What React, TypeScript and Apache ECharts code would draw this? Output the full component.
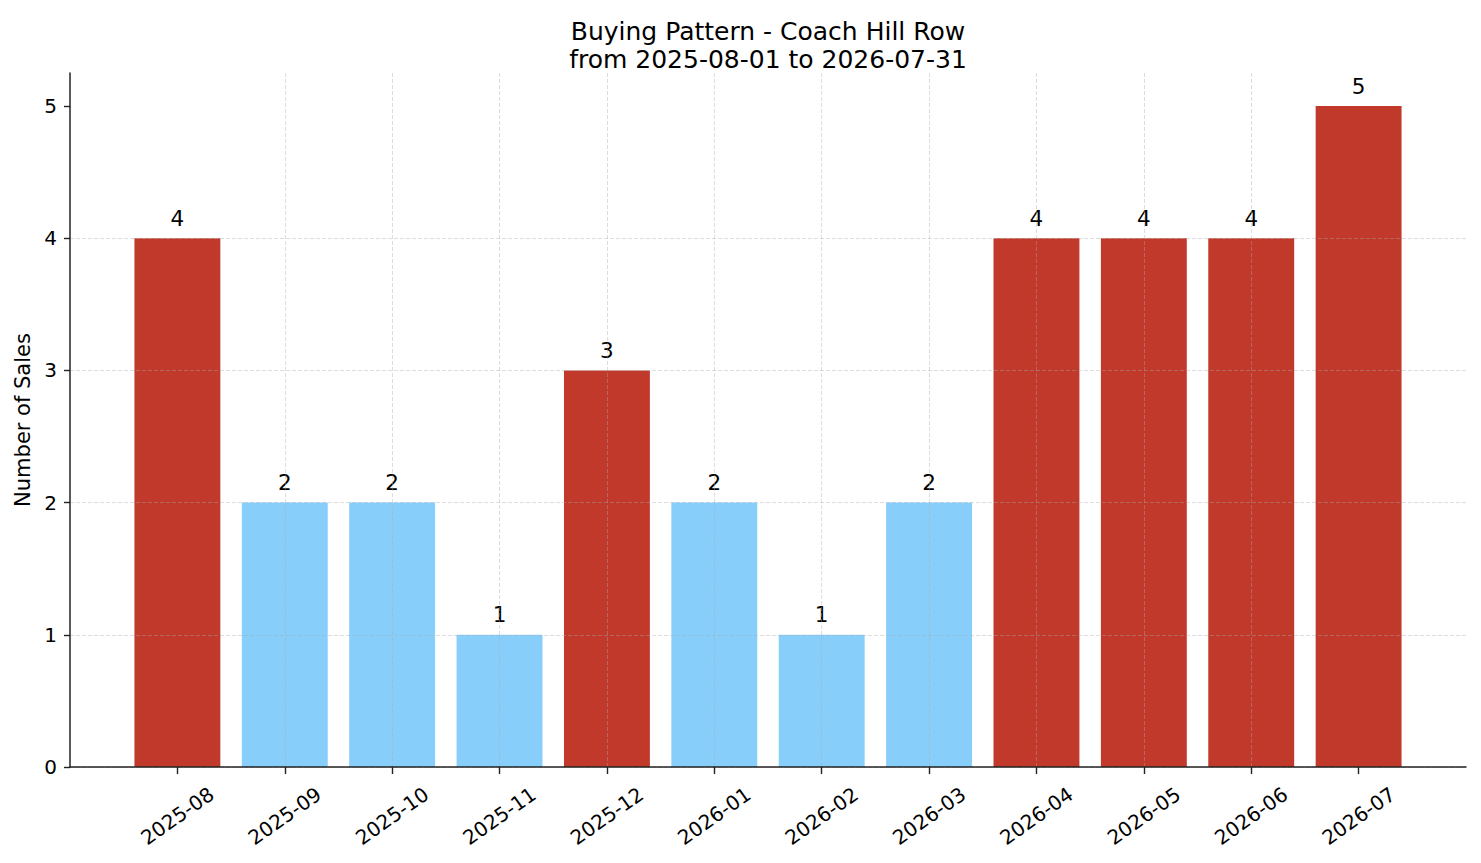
import React, { useEffect, useRef } from "react";
import * as echarts from "echarts";

// monthly sales counts
const months = [
  "2025-08", "2025-09", "2025-10", "2025-11", "2025-12", "2026-01",
  "2026-02", "2026-03", "2026-04", "2026-05", "2026-06", "2026-07",
];
const sales = [4, 2, 2, 1, 3, 2, 1, 2, 4, 4, 4, 5];
const yTicks = [0, 1, 2, 3, 4, 5];

const HIGH = "#c0392b";
const LOW = "#87cefa";
const HIGH_FROM = 3; // months with 3+ sales are shown in red

const FONT = "DejaVu Sans";
const AXIS = "#222222";
const GRID = "rgba(170,170,170,0.5)";
const TICK_SIZE = 20;

const App = () => {
  const chartRef = useRef<HTMLDivElement>(null);

  useEffect(() => {
    const chartDom = chartRef.current;
    if (!chartDom) return;
    const myChart = echarts.init(chartDom, null, { renderer: "svg" });

    const idx = months.map((_, i) => i);

    const option = {
      animation: false,
      backgroundColor: "#ffffff",
      textStyle: { fontFamily: FONT },
      title: {
        text: "Buying Pattern - Coach Hill Row\nfrom 2025-08-01 to 2026-07-31",
        left: 763,
        top: 12,
        textAlign: "center",
        textStyle: {
          fontFamily: FONT,
          fontSize: 25,
          fontWeight: "normal",
          color: "#000",
          lineHeight: 28,
        },
      },
      grid: { left: 70, right: 15, top: 73, bottom: 96, containLabel: false },
      xAxis: {
        type: "value",
        min: -1,
        max: 12,
        interval: 1,
        z: 3,
        axisLine: { show: true, onZero: false, lineStyle: { color: AXIS, width: 1.5 } },
        axisTick: {
          show: true,
          length: 7,
          customValues: idx,
          lineStyle: { color: AXIS, width: 1.4 },
        },
        axisLabel: {
          customValues: idx,
          rotate: 35,
          align: "center",
          verticalAlign: "middle",
          margin: 49,
          fontFamily: FONT,
          fontSize: TICK_SIZE,
          color: "#000",
          formatter: (v: number) => months[v] ?? "",
        },
        splitLine: {
          show: true,
          showMinLine: false,
          showMaxLine: false,
          lineStyle: { color: GRID, type: [4, 2], width: 0.8 },
        },
      },
      yAxis: {
        type: "value",
        min: 0,
        max: 5.25,
        interval: 1,
        z: 3,
        name: "Number of Sales",
        nameLocation: "middle",
        nameGap: 36,
        nameTextStyle: { fontFamily: FONT, fontSize: 21, color: "#000" },
        axisLine: { show: true, onZero: false, lineStyle: { color: AXIS, width: 1.5 } },
        axisTick: {
          show: true,
          length: 6,
          customValues: yTicks,
          lineStyle: { color: AXIS, width: 1.4 },
        },
        axisLabel: {
          customValues: yTicks,
          margin: 13,
          fontFamily: FONT,
          fontSize: TICK_SIZE,
          color: "#000",
          formatter: (v: number) => (Number.isInteger(v) ? String(v) : ""),
        },
        splitLine: {
          show: true,
          showMaxLine: false,
          lineStyle: { color: GRID, type: [4, 2], width: 0.8 },
        },
      },
      series: [
        {
          type: "bar",
          barWidth: "80%",
          data: sales.map((v, i) => ({
            value: [i, v],
            itemStyle: { color: v >= HIGH_FROM ? HIGH : LOW },
          })),
          label: {
            show: true,
            position: "top",
            distance: 9,
            fontFamily: FONT,
            fontSize: 21.5,
            color: "#000",
            formatter: (p: any) => String(p.value[1]),
          },
        },
      ],
    };

    myChart.setOption(option);

    return () => {
      myChart.dispose();
    };
  }, []);

  return (
    <div
      ref={chartRef}
      style={{ position: "absolute", left: 0, top: 0, width: 1481, height: 863 }}
    ></div>
  );
};

export default App;
